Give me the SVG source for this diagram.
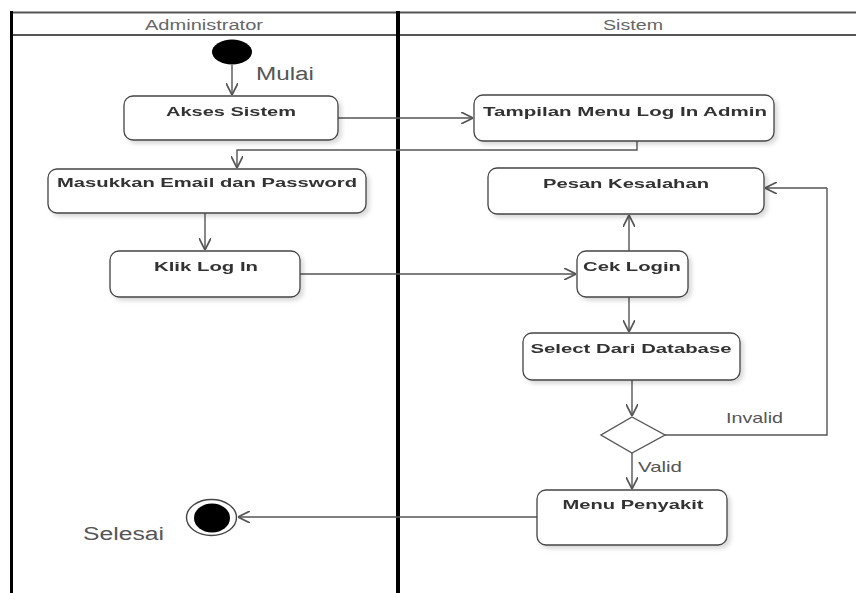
<svg xmlns="http://www.w3.org/2000/svg" width="856" height="593" viewBox="0 0 856 593">
  <style>
    .lane { stroke: #000; fill: none; }
    .hdr { stroke: #555; stroke-width: 2; fill: none; }
    .lane-title { font-family: "Liberation Sans", Arial, sans-serif; font-size: 14px; fill: #666; text-anchor: middle; }
    .act rect { fill: #fff; stroke: #444; stroke-width: 1.3; }
    .act text { font-family: "Liberation Sans", Arial, sans-serif; font-weight: bold; font-size: 13.5px; fill: #333; text-anchor: middle; }
    .note { font-family: "Liberation Sans", Arial, sans-serif; fill: #555; }
    .flow { stroke: #555; stroke-width: 1.4; fill: none; marker-end: url(#open); }
    .flow-plain { stroke: #555; stroke-width: 1.4; fill: none; }
  </style>
  <defs>
    <marker id="open" markerWidth="12" markerHeight="12" refX="10" refY="5" orient="auto" markerUnits="userSpaceOnUse" viewBox="0 0 10 10">
      <path d="M0,0 L10,5 L0,10" fill="none" stroke="#555" stroke-width="1.4"/>
    </marker>
    <filter id="shadow" x="-10%" y="-20%" width="125%" height="150%">
      <feDropShadow dx="3" dy="3" stdDeviation="2" flood-color="#000" flood-opacity="0.15"/>
    </filter>
  </defs>

  <rect width="856" height="593" fill="#fff"/>

  <!-- swimlane frame -->
  <g id="lanes">
    <line class="hdr" x1="10" y1="12.5" x2="856" y2="12.5"/>
    <line class="hdr" x1="10" y1="35" x2="856" y2="35"/>
    <line class="lane" x1="11.5" y1="11" x2="11.5" y2="593" stroke-width="3"/>
    <line class="lane" x1="398" y1="11" x2="398" y2="593" stroke-width="4"/>
    <text class="lane-title" x="204" y="30" textLength="118" lengthAdjust="spacingAndGlyphs">Administrator</text>
    <text class="lane-title" x="633" y="30" textLength="60" lengthAdjust="spacingAndGlyphs">Sistem</text>
  </g>

  <!-- connectors -->
  <g id="connectors">
    <path class="flow" d="M232,65 L232,95"/>
    <path class="flow" d="M338,118 L473,118"/>
    <path class="flow" d="M637,141 L637,150 L237,150 L237,168"/>
    <path class="flow" d="M205,213 L205,250"/>
    <path class="flow" d="M300,274 L576,274"/>
    <path class="flow" d="M629,251 L629,215"/>
    <path class="flow" d="M629,297 L629,332"/>
    <path class="flow" d="M632,380 L632,416"/>
    <path class="flow-plain" d="M665,435 L827,435 L827,188"/>
    <path class="flow" d="M827,188 L765,188"/>
    <path class="flow" d="M632,453 L632,489"/>
    <path class="flow" d="M537,517 L238,517"/>
    <text class="note" x="726" y="423" font-size="15" textLength="57" lengthAdjust="spacingAndGlyphs">Invalid</text>
    <text class="note" x="638" y="472" font-size="15" textLength="44" lengthAdjust="spacingAndGlyphs">Valid</text>
  </g>

  <!-- start node -->
  <g id="start">
    <ellipse cx="232" cy="52" rx="20" ry="12.5" fill="#000"/>
    <text class="note" x="256" y="80" font-size="18" textLength="58" lengthAdjust="spacingAndGlyphs">Mulai</text>
  </g>

  <g id="akses-sistem" class="act" filter="url(#shadow)">
    <rect x="124" y="96" width="214" height="44" rx="9"/>
    <text x="231" y="116" textLength="130" lengthAdjust="spacingAndGlyphs">Akses Sistem</text>
  </g>

  <g id="tampilan-menu" class="act" filter="url(#shadow)">
    <rect x="474" y="95" width="300" height="46" rx="9"/>
    <text x="625" y="116" textLength="284" lengthAdjust="spacingAndGlyphs">Tampilan Menu Log In Admin</text>
  </g>

  <g id="masukkan-email" class="act" filter="url(#shadow)">
    <rect x="48" y="169" width="318" height="44" rx="9"/>
    <text x="207" y="187" textLength="300" lengthAdjust="spacingAndGlyphs">Masukkan Email dan Password</text>
  </g>

  <g id="klik-login" class="act" filter="url(#shadow)">
    <rect x="110" y="251" width="190" height="46" rx="9"/>
    <text x="206" y="271" textLength="104" lengthAdjust="spacingAndGlyphs">Klik Log In</text>
  </g>

  <g id="pesan-kesalahan" class="act" filter="url(#shadow)">
    <rect x="488" y="168" width="276" height="46" rx="9"/>
    <text x="626" y="188" textLength="166" lengthAdjust="spacingAndGlyphs">Pesan Kesalahan</text>
  </g>

  <g id="cek-login" class="act" filter="url(#shadow)">
    <rect x="577" y="251" width="111" height="46" rx="9"/>
    <text x="632" y="271" textLength="98" lengthAdjust="spacingAndGlyphs">Cek Login</text>
  </g>

  <g id="select-database" class="act" filter="url(#shadow)">
    <rect x="523" y="333" width="217" height="47" rx="9"/>
    <text x="631" y="353" textLength="201" lengthAdjust="spacingAndGlyphs">Select Dari Database</text>
  </g>

  <g id="decision">
    <polygon points="632,417 665,435 632,453 601,435" fill="#fff" stroke="#555" stroke-width="1.4"/>
  </g>

  <g id="menu-penyakit" class="act" filter="url(#shadow)">
    <rect x="537" y="490" width="190" height="55" rx="9"/>
    <text x="633" y="509" textLength="141" lengthAdjust="spacingAndGlyphs">Menu Penyakit</text>
  </g>

  <!-- end node -->
  <g id="end">
    <ellipse cx="211.5" cy="517.5" rx="25" ry="18" fill="#fff" stroke="#444" stroke-width="1.4"/>
    <ellipse cx="212" cy="518" rx="18" ry="14.5" fill="#000"/>
    <text class="note" x="83" y="540" font-size="18" textLength="81" lengthAdjust="spacingAndGlyphs">Selesai</text>
  </g>
</svg>
